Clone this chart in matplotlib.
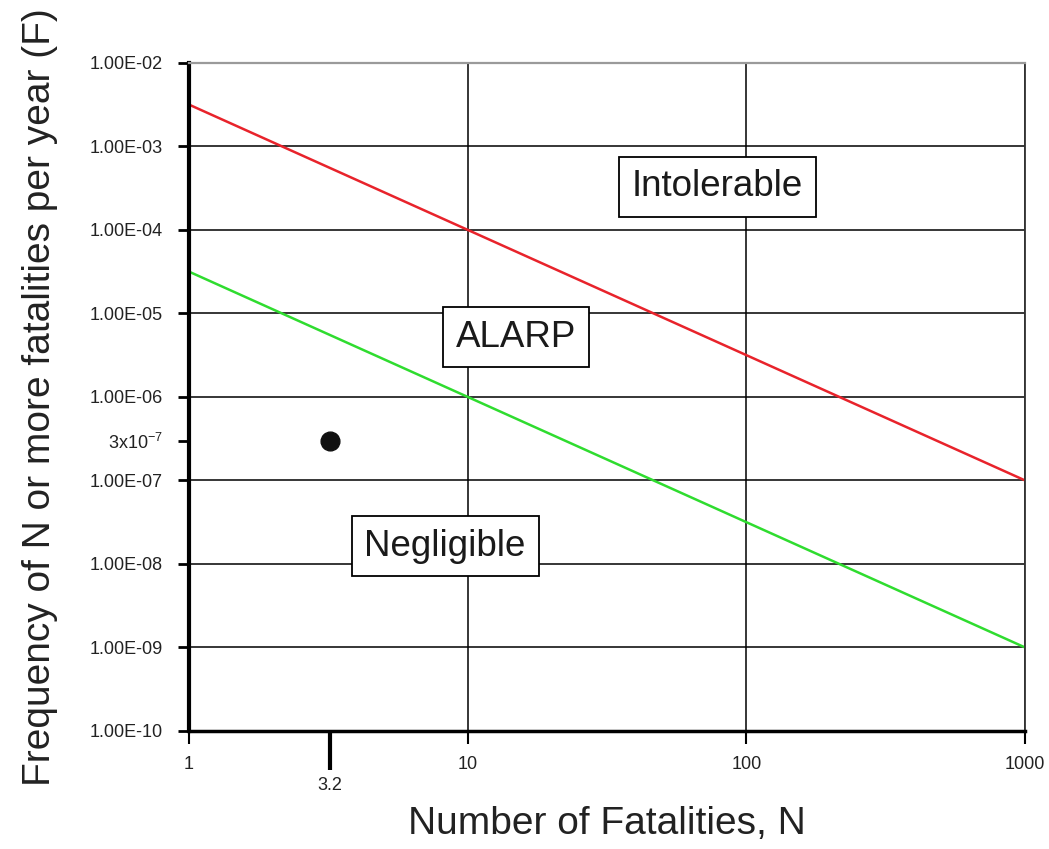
import matplotlib
matplotlib.use("Agg")
import matplotlib.pyplot as plt
from matplotlib.ticker import FixedLocator, FixedFormatter, NullFormatter

plt.rcParams['font.family'] = ['Liberation Sans', 'DejaVu Sans']
plt.rcParams['mathtext.default'] = 'regular'

# Data
n_ends = [1, 1000]
red_f = [3.16e-3, 1e-7]       # intolerable boundary
green_f = [3.16e-5, 1e-9]     # negligible boundary
point_n = [3.2]
point_f = [3e-7]

x_major = [1, 10, 100, 1000]
x_major_labels = ['1', '10', '100', '1000']
y_major = [1e-10, 1e-9, 1e-8, 1e-7, 1e-6, 1e-5, 1e-4, 1e-3, 1e-2]
y_major_labels = ['%.2E' % v for v in y_major]

regions = ['Intolerable', 'ALARP', 'Negligible']
region_n = [78.5, 14.9, 8.3]
region_f = [3.27e-4, 5.2e-6, 1.64e-8]

fig = plt.figure(figsize=(10.49, 8.49), dpi=100)
ax = fig.add_axes([0.1802, 0.139, 0.797, 0.787])
ax.set_xscale('log')
ax.set_yscale('log')
ax.set_xlim(1, 1000)
ax.set_ylim(1e-10, 1e-2)

ax.plot(n_ends, red_f, color='#e8232b', lw=1.8, zorder=3)
ax.plot(n_ends, green_f, color='#2fdc2f', lw=1.8, zorder=3)
ax.plot(point_n, point_f, 'o', color='#111111', ms=13.5, zorder=4)

# ticks
ax.xaxis.set_major_locator(FixedLocator(x_major))
ax.xaxis.set_major_formatter(FixedFormatter(x_major_labels))
ax.xaxis.set_minor_locator(FixedLocator(point_n))
ax.xaxis.set_minor_formatter(FixedFormatter(['3.2']))
ax.yaxis.set_major_locator(FixedLocator(y_major))
ax.yaxis.set_major_formatter(FixedFormatter(y_major_labels))
ax.yaxis.set_minor_locator(FixedLocator(point_f))
ax.yaxis.set_minor_formatter(FixedFormatter(['3x10$^{-7}$']))

ax.tick_params(axis='x', which='major', direction='out', length=9, width=1.5,
               pad=9, labelsize=13, labelcolor='#222222')
ax.tick_params(axis='x', which='minor', direction='out', length=28, width=3,
               pad=5, labelsize=13, labelcolor='#222222')
ax.tick_params(axis='y', which='both', direction='out', length=8, width=2,
               pad=11, labelsize=13, labelcolor='#222222')

ax.grid(True, which='major', color='black', lw=1.1)

for side, lw, col in [('left', 3, 'black'), ('bottom', 2.5, 'black'),
                      ('top', 1.6, '#9a9a9a'), ('right', 1.3, '#333333')]:
    ax.spines[side].set_linewidth(lw)
    ax.spines[side].set_color(col)
    ax.spines[side].set_zorder(5)

for label, x, y in zip(regions, region_n, region_f):
    ax.text(x, y, label, fontsize=26.5, color='#1a1a1a', ha='center', va='center',
            zorder=6,
            bbox=dict(boxstyle='square,pad=0.35', facecolor='white',
                      edgecolor='black', lw=1.3))

ax.set_xlabel('Number of Fatalities, N', fontsize=28, color='#222222')
ax.xaxis.set_label_coords(0.5, -0.112)
ax.set_ylabel('Frequency of N or more fatalities per year (F)', fontsize=28,
              color='#222222')
ax.yaxis.set_label_coords(-0.157, 0.5)

fig.savefig('out.png', dpi=100)
